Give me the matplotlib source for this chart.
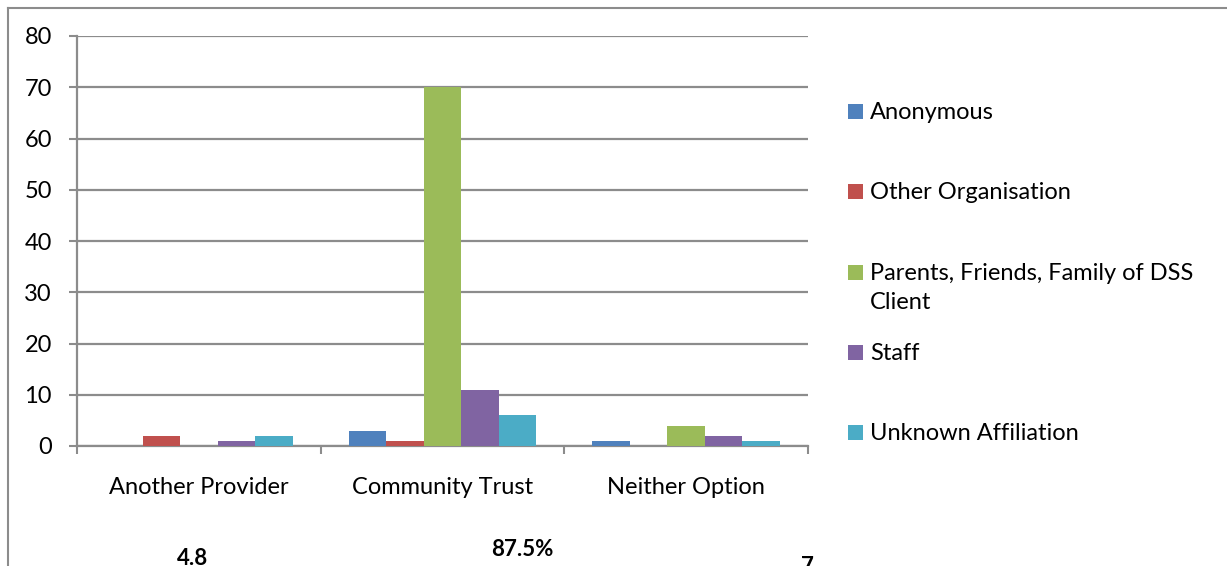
import matplotlib
matplotlib.use("Agg")
import matplotlib.pyplot as plt
from matplotlib.lines import Line2D
from matplotlib.patches import Rectangle
import numpy as np

plt.rcParams["font.family"] = ["Lato", "DejaVu Sans"]

# data
kategorier = ["Another Provider", "Community Trust", "Neither Option"]
serier = ["Anonymous", "Other Organisation",
          "Parents, Friends, Family of DSS\nClient", "Staff", "Unknown Affiliation"]
anonymous = [0, 3, 1]
other_org = [2, 1, 0]
parents = [0, 70, 4]
staff = [1, 11, 2]
unknown = [2, 6, 1]
verdier = [anonymous, other_org, parents, staff, unknown]
farger = ["#4F81BD", "#C0504D", "#9BBB59", "#8064A2", "#4BACC6"]
bunntekster = ["4.8", "87.5%", "7"]

W, H = 1227, 566
fig = plt.figure(figsize=(W / 100, H / 100), dpi=100)
ax = fig.add_axes([77 / W, 1 - 446 / H, (808 - 77) / W, (446 - 36) / H])

x = np.arange(len(kategorier))
bredde = 0.77 / len(serier)
stolper = []
for i, (v, c) in enumerate(zip(verdier, farger)):
    b = ax.bar(x - 0.385 + bredde * (i + 0.5), v, bredde, color=c, zorder=3)
    stolper.append(b)

ax.set_xlim(-0.5, 2.5)
ax.set_ylim(0, 80)
ax.set_yticks(range(0, 81, 10))
ax.yaxis.grid(True, color="#8c8c8c", linewidth=1.6, zorder=0)

gra = "#8c8c8c"
for s in ["top", "right"]:
    ax.spines[s].set_visible(False)
for s in ["left", "bottom"]:
    ax.spines[s].set_color(gra)
    ax.spines[s].set_linewidth(1.6)

# ticks på kategorigrensene, labels i midten
ax.set_xticks([-0.5, 0.5, 1.5, 2.5])
ax.set_xticklabels([])
ax.set_xticks(x, minor=True)
ax.set_xticklabels(kategorier, minor=True)
ax.tick_params(axis="x", which="major", direction="out", length=6, width=1.5, color=gra)
ax.tick_params(axis="x", which="minor", length=0, pad=22, labelsize=17)
ax.tick_params(axis="y", direction="out", length=6, width=1.5, color=gra, pad=12, labelsize=17)

# legend laget manuelt (Excel-plassering)
leg_y = [111.5, 191.5, 272.5, 352.5, 432.5]
for b, navn, yy in zip(stolper, serier, leg_y):
    fig.patches.append(Rectangle((848 / W, 1 - (yy + 7.5) / H), 15 / W, 15 / H,
                                 transform=fig.transFigure,
                                 facecolor=b.patches[0].get_facecolor(), edgecolor="none"))
    fig.text(870 / W, 1 - (yy - 9.5) / H, navn, fontsize=17, va="top", ha="left",
             linespacing=1.45)

# ramme rundt diagrammet
fig.add_artist(Line2D([8 / W, 8 / W], [0, 1 - 8 / H], color=gra, linewidth=1.5))
fig.add_artist(Line2D([8 / W, 1], [1 - 8 / H, 1 - 8 / H], color=gra, linewidth=1.5))

# avkuttet tekst nederst, som i originalen
for tekst, xx, yy in zip(bunntekster, [193, 522, 807], [548, 539, 556]):
    fig.text(xx / W, 1 - yy / H, tekst, fontsize=16, fontweight="bold", ha="center", va="top")

fig.savefig("out.png", dpi=100)
